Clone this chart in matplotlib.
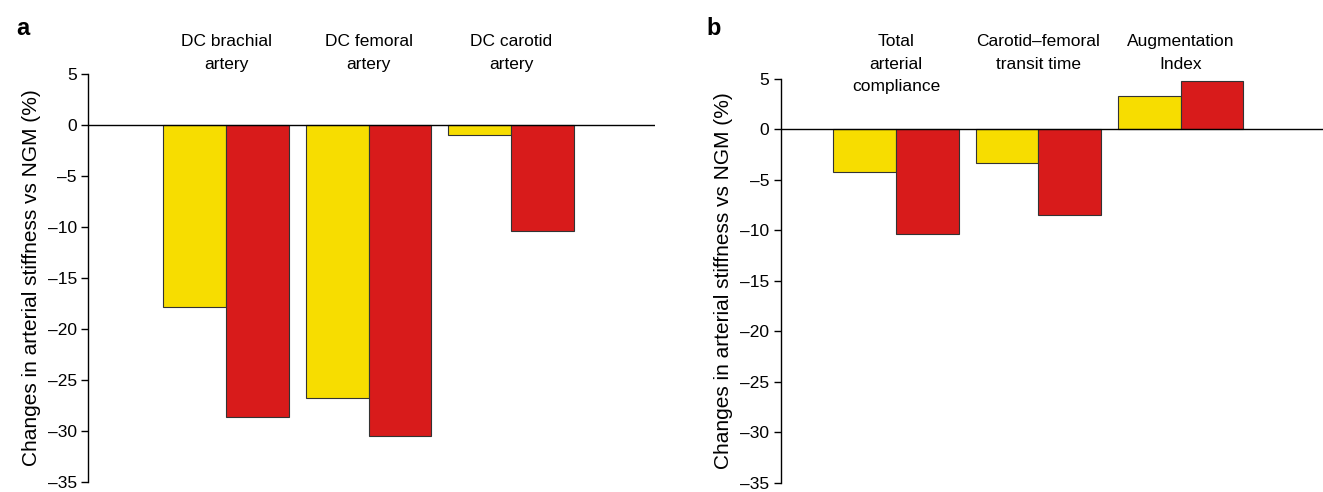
import numpy as np
import matplotlib.pyplot as plt
from matplotlib import transforms

plt.rcParams['font.family'] = ['Liberation Sans', 'DejaVu Sans']

# panel a data
cats_a = ['DC brachial\nartery', 'DC femoral\nartery', 'DC carotid\nartery']
yellow_a = [-17.8, -26.8, -1.0]
red_a = [-28.6, -30.5, -10.4]

# panel b data
cats_b = ['Total\narterial\ncompliance', 'Carotid\u2013femoral\ntransit time', 'Augmentation\nIndex']
yellow_b = [-4.2, -3.3, 3.3]
red_b = [-10.4, -8.5, 4.8]

yticks = [5, 0, -5, -10, -15, -20, -25, -30, -35]
ylab = 'Changes in arterial stiffness vs NGM (%)'

YEL = '#F7DD00'
RED = '#D81B1B'

fig = plt.figure(figsize=(13.23, 4.92), dpi=100)
ax_a = fig.add_axes([0.0665, 0.0203, 0.4285, 0.8293])
ax_b = fig.add_axes([0.590, 0.019, 0.410, 0.821])


def draw(ax, cats, yel, red, xlim):
    x = np.arange(len(cats))
    w = 0.44
    ax.bar(x - w / 2, yel, w, color=YEL, edgecolor='#333333', linewidth=0.8)
    ax.bar(x + w / 2, red, w, color=RED, edgecolor='#333333', linewidth=0.8)
    ax.axhline(0, color='black', linewidth=1.0)
    ax.set_xlim(*xlim)
    ax.set_ylim(-35, 5)
    ax.set_yticks(yticks)
    ax.set_yticklabels([str(t).replace('-', '\u2013') for t in yticks], fontsize=12.5)
    ax.set_xticks([])
    for s in ['top', 'right', 'bottom']:
        ax.spines[s].set_visible(False)
    ax.spines['left'].set_linewidth(1.0)
    ax.tick_params(axis='y', direction='out', length=5, width=1.0, pad=3)
    ax.set_ylabel(ylab, fontsize=15, labelpad=5)
    tr = transforms.blended_transform_factory(ax.transData, fig.transFigure)
    for xi, c in zip(x, cats):
        ax.text(xi, 0.93, c, transform=tr, ha='center', va='top',
                fontsize=12.5, linespacing=1.6)


draw(ax_a, cats_a, yellow_a, red_a, (-0.97, 3.01))
draw(ax_b, cats_b, yellow_b, red_b, (-0.81, 3.0))

fig.text(0.012, 0.965, 'a', fontsize=17, fontweight='bold', va='top')
fig.text(0.534, 0.965, 'b', fontsize=17, fontweight='bold', va='top')

fig.savefig('out.png', dpi=100)
